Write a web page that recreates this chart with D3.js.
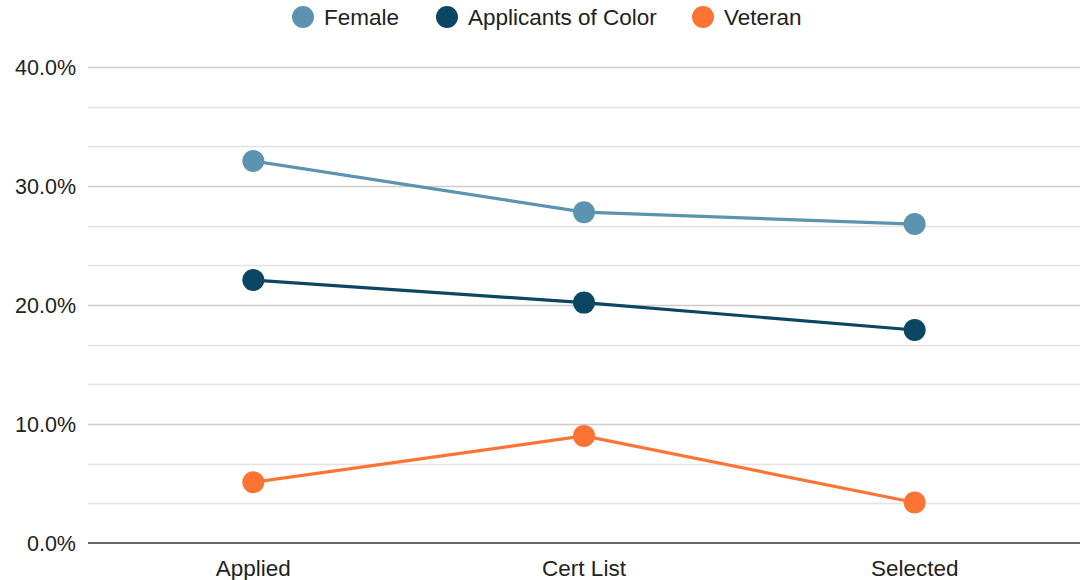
<!DOCTYPE html>
<html>
<head>
<meta charset="utf-8">
<script src="https://cdn.jsdelivr.net/npm/d3@7"></script>
<style>
  body { margin: 0; background: #fff; }
  svg { font-family: "Liberation Sans", Arial, sans-serif; }
</style>
</head>
<body>
<div id="chart"></div>
<script>
// Data
const stages = ['Applied', 'Cert List', 'Selected'];
const female = [32.1, 27.8, 26.8];
const applicantsOfColor = [22.1, 20.2, 17.9];
const veteran = [5.1, 9.0, 3.4];
const yTicks = [0, 10, 20, 30, 40];

const series = [
    { name: 'Female', values: female, color: '#5b93b1' },
    { name: 'Applicants of Color', values: applicantsOfColor, color: '#0b4762' },
    { name: 'Veteran', values: veteran, color: '#fc7434' }
];

const W = 1085, H = 580;
const margin = { top: 67, right: 5, bottom: 37, left: 88 };

const svg = d3.select('#chart').append('svg')
    .attr('width', W).attr('height', H);

const x = d3.scaleBand().domain(stages)
    .range([margin.left, W - margin.right]);
const y = d3.scaleLinear().domain([0, 40])
    .range([H - margin.bottom, margin.top]);

// ─── Gridlines (major + minor thirds) ───────────────────────────────
const minor = d3.range(0, 40.001, 10 / 3).filter(v => Math.abs(v % 10) > 0.01 && Math.abs(v % 10 - 10) > 0.01);
svg.append('g').selectAll('line')
    .data(minor).enter().append('line')
    .attr('x1', margin.left).attr('x2', W - margin.right)
    .attr('y1', d => Math.round(y(d)) + 0.5).attr('y2', d => Math.round(y(d)) + 0.5)
    .attr('stroke', '#e3e3e3').attr('stroke-width', 1.5);

svg.append('g').selectAll('line')
    .data(yTicks.filter(d => d > 0)).enter().append('line')
    .attr('x1', margin.left).attr('x2', W - margin.right)
    .attr('y1', d => Math.round(y(d)) + 0.5).attr('y2', d => Math.round(y(d)) + 0.5)
    .attr('stroke', '#cccccc').attr('stroke-width', 1.5);

// Baseline
svg.append('line')
    .attr('x1', margin.left).attr('x2', W - margin.right)
    .attr('y1', y(0)).attr('y2', y(0))
    .attr('stroke', '#333').attr('stroke-width', 1.5);

// Y labels
svg.append('g').selectAll('text')
    .data(yTicks).enter().append('text')
    .attr('x', 76).attr('y', d => y(d))
    .attr('dy', '0.35em')
    .attr('text-anchor', 'end')
    .style('font-size', '21.5px')
    .style('fill', '#222')
    .text(d => d.toFixed(1) + '%');

// X labels
svg.append('g').selectAll('text')
    .data(stages).enter().append('text')
    .attr('x', d => x(d) + x.bandwidth() / 2)
    .attr('y', 576)
    .attr('text-anchor', 'middle')
    .style('font-size', '22.5px')
    .style('fill', '#222')
    .text(d => d);

// ─── Lines + points ────────────────────────────────────────────────
const line = d3.line()
    .x((d, i) => x(stages[i]) + x.bandwidth() / 2)
    .y(d => y(d));

series.forEach(s => {
    svg.append('path')
        .attr('d', line(s.values))
        .attr('fill', 'none')
        .attr('stroke', s.color)
        .attr('stroke-width', 3.2);

    svg.append('g').selectAll('circle')
        .data(s.values).enter().append('circle')
        .attr('cx', (d, i) => x(stages[i]) + x.bandwidth() / 2)
        .attr('cy', d => y(d))
        .attr('r', 11)
        .attr('fill', s.color);
});

// ─── Legend ────────────────────────────────────────────────────────
const legendX = [303, 447, 703];
const legend = svg.append('g');
series.forEach((s, i) => {
    legend.append('circle')
        .attr('cx', legendX[i]).attr('cy', 17).attr('r', 11)
        .attr('fill', s.color);
    legend.append('text')
        .attr('x', legendX[i] + 21).attr('y', 17)
        .attr('dy', '0.35em')
        .style('font-size', '22.5px')
        .style('fill', '#222')
        .text(s.name);
});
</script>
</body>
</html>
